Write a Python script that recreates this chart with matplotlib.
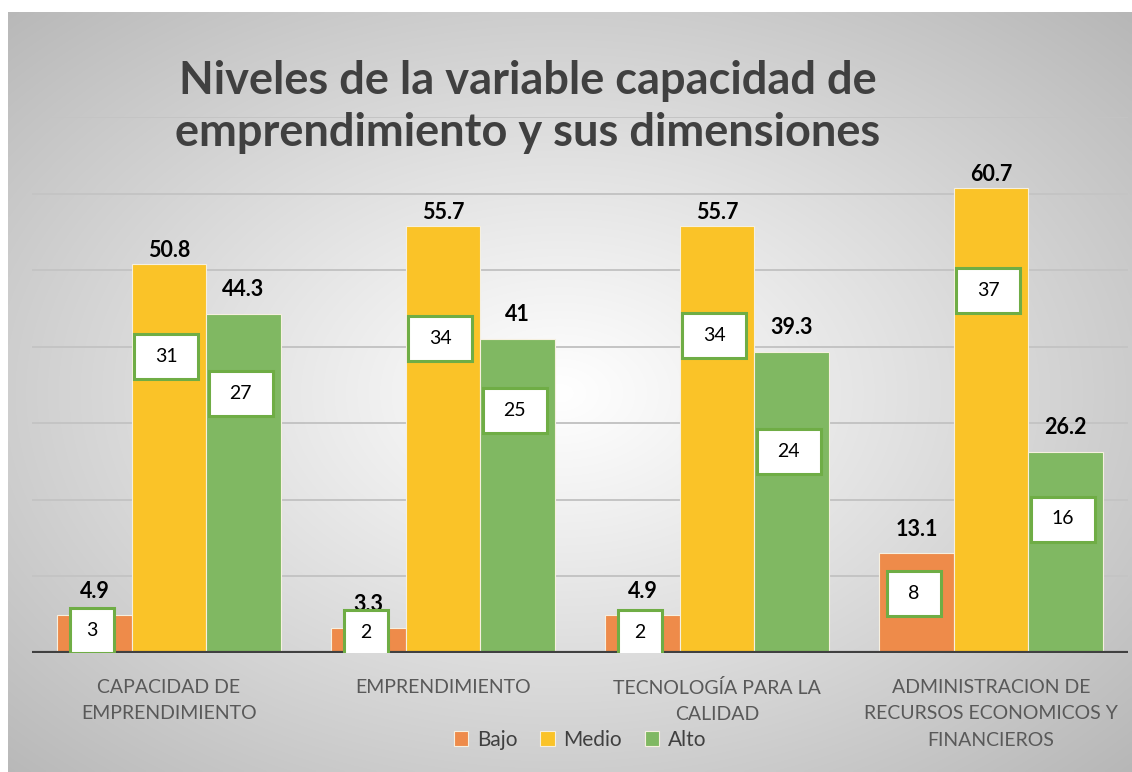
import numpy as np
import matplotlib
matplotlib.use("Agg")
import matplotlib.pyplot as plt
from matplotlib.patches import Rectangle

# ---------------- data ----------------
categories = ["CAPACIDAD DE\nEMPRENDIMIENTO", "EMPRENDIMIENTO",
              "TECNOLOGÍA PARA LA\nCALIDAD",
              "ADMINISTRACION DE\nRECURSOS ECONOMICOS Y\nFINANCIEROS"]
series_names = ["Bajo", "Medio", "Alto"]
bajo = [4.9, 3.3, 4.9, 13.1]
medio = [50.8, 55.7, 55.7, 60.7]
alto = [44.3, 41, 39.3, 26.2]
bajo_n = [3, 2, 2, 8]
medio_n = [31, 34, 34, 37]
alto_n = [27, 25, 24, 16]
title = "Niveles de la variable capacidad de\nemprendimiento y sus dimensiones"

# label placement (layout, data units)
bajo_n_y = [2.9, 2.7, 2.7, 7.8]
medio_n_y = [38.7, 41.1, 41.5, 47.3]
alto_n_y = [33.9, 31.7, 26.3, 17.5]

colors = ["#EE8B4A", "#FAC328", "#80B862"]
FONT = "Lato"

W, H = 1132, 772
fig = plt.figure(figsize=(W / 100, H / 100), dpi=100)
fig.patch.set_facecolor("white")

# background gradient chart area
bx0, by0, bx1, by1 = 8, 12, 1131, 772
bg = fig.add_axes([bx0 / W, 1 - by1 / H, (bx1 - bx0) / W, (by1 - by0) / H])
bg.set_axis_off()
ny, nx = 300, 440
yy, xx = np.mgrid[0:ny, 0:nx]
cx, cy = nx * 0.49, ny * 0.50
r = np.sqrt(((xx - cx) / (nx * 0.5)) ** 2 + ((yy - cy) / (ny * 0.5)) ** 2) / np.sqrt(2)
val = 1.0 - 0.28 * np.clip(r, 0, 1) ** 1.05
img = np.dstack([val, val, val])
bg.imshow(img, aspect="auto", extent=[0, 1, 0, 1], interpolation="bilinear")
bg.set_xlim(0, 1)
bg.set_ylim(0, 1)
bg.set_zorder(-10)

# main axes
left, right = 32, 1128
base_y, top_y = 653, 117
ax = fig.add_axes([left / W, 1 - base_y / H, (right - left) / W, (base_y - top_y) / H])
ax.set_facecolor("none")
ax.set_xlim(-0.5, 3.5)
ax.set_ylim(0, 70)

x = np.arange(len(categories))
bw = 0.272
allvals = [bajo, medio, alto]
alln = [bajo_n, medio_n, alto_n]
allny = [bajo_n_y, medio_n_y, alto_n_y]
offsets = [-bw, 0, bw]
label_off = [13, 3, 14]

for gy in range(10, 71, 10):
    ax.axhline(gy, color="#c4c4c4", lw=1.4, zorder=0)

for i, (vals, c) in enumerate(zip(allvals, colors)):
    ax.bar(x + offsets[i], vals, width=bw, color=c, edgecolor="#f6f0e0",
           linewidth=0.8, zorder=2, label=series_names[i])
    for j, v in enumerate(vals):
        ax.annotate(f"{v:g}", (x[j] + offsets[i], v), xytext=(0, label_off[i]),
                    textcoords="offset pixels",
                    ha="center", va="bottom", fontsize=15.5, fontweight="bold",
                    color="black", family=FONT, zorder=3)

ax.axhline(0, color="#404040", lw=3, zorder=4)

# count boxes
px_x = 274.0  # pixels per category unit
px_y = (base_y - top_y) / 70.0
for i in range(3):
    for j in range(4):
        n = alln[i][j]
        txt = str(n)
        wpx = 64 if len(txt) > 1 else 44
        if n == 8:
            wpx = 54
        hpx = 45
        cxp = x[j] + offsets[i] - 0.01
        cyp = allny[i][j]
        w = wpx / px_x
        h = hpx / px_y
        ax.add_patch(Rectangle((cxp - w / 2, cyp - h / 2), w, h, facecolor="white",
                               edgecolor="#6FAD45", linewidth=2.2, zorder=5))
        ax.text(cxp, cyp, txt, ha="center", va="center", fontsize=14,
                color="black", family=FONT, zorder=6)

ax.set_xticks(x)
ax.set_xticklabels(categories, fontsize=14, color="#595959", family=FONT,
                   linespacing=1.65, va="top")
ax.tick_params(axis="x", length=0, pad=19)
ax.set_yticks([])
for s in ax.spines.values():
    s.set_visible(False)

fig.text(528 / W, 1 - 107 / H, title, ha="center", va="center", fontsize=32.5,
         fontweight="bold", color="#404040", family=FONT, linespacing=1.3)

leg = fig.legend(loc="center", bbox_to_anchor=(580 / W, 1 - 740 / H), ncol=3,
                 frameon=False, prop={"family": FONT, "size": 15},
                 handlelength=0.7, handleheight=0.7, handletextpad=0.4,
                 columnspacing=1.1)
for t in leg.get_texts():
    t.set_color("#404040")

fig.savefig("out.png", dpi=100)
